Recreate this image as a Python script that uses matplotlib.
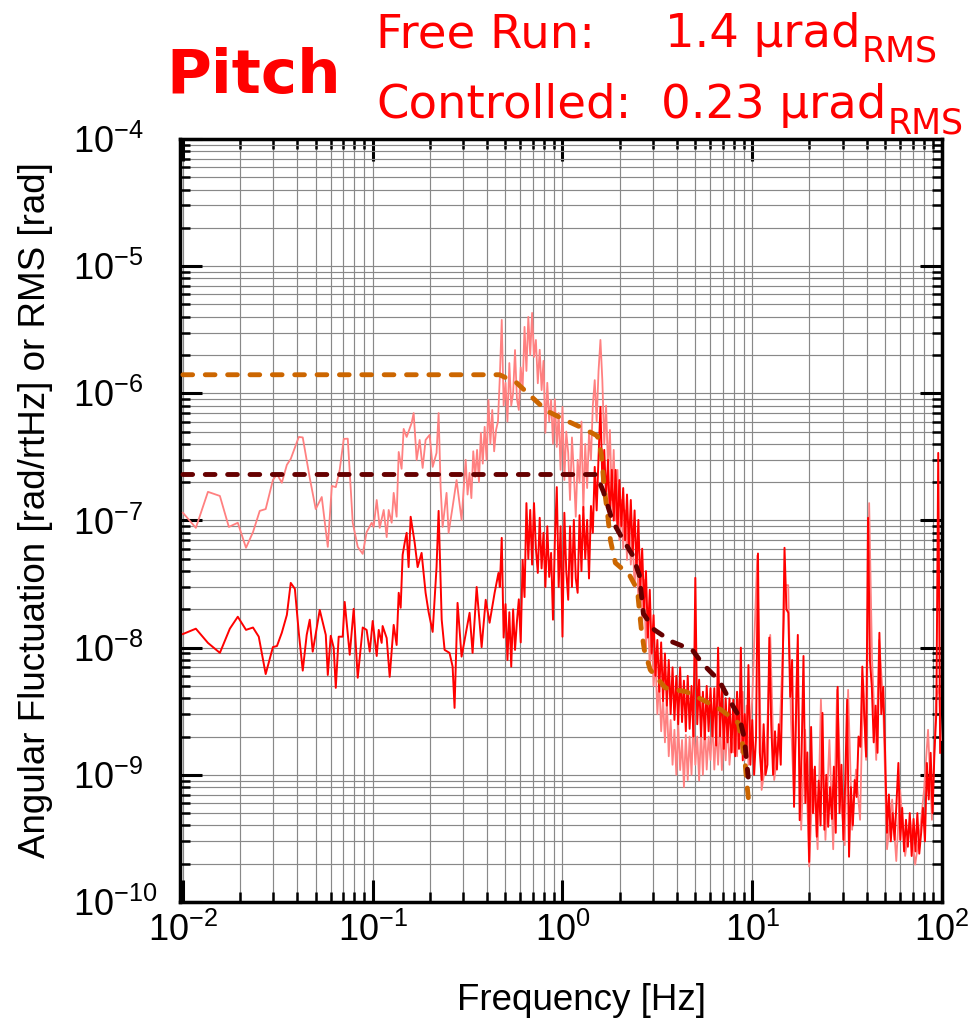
import matplotlib
matplotlib.use("Agg")
import matplotlib.pyplot as plt
from matplotlib.ticker import LogLocator, NullFormatter
import numpy as np

plt.rcParams['font.family'] = ['Liberation Sans', 'DejaVu Sans']
plt.rcParams['mathtext.default'] = 'regular'

# ---- low frequency part of the spectra (read point by point) ----
freq_free_low = [0.0100, 0.0117, 0.01355, 0.01566, 0.01746, 0.01946, 0.0215, 0.0234, 0.0254, 0.0273,
                 0.0298, 0.0313, 0.0332, 0.0353, 0.0370, 0.0408, 0.0428, 0.0466, 0.0501, 0.0539,
                 0.0580, 0.0609, 0.0639, 0.0670, 0.0704, 0.0739, 0.0785, 0.0834, 0.0886, 0.0929,
                 0.0988, 0.1012, 0.1050, 0.1089, 0.1143, 0.1185, 0.1214, 0.1259, 0.129, 0.1337,
                 0.1371, 0.142, 0.1456, 0.151, 0.1604, 0.1644, 0.1705, 0.1768, 0.1833, 0.190,
                 0.1995, 0.207, 0.217, 0.2225, 0.228, 0.2336, 0.245, 0.2512, 0.2637, 0.2767,
                 0.294]
amp_free_low = [1.15e-7, 8.75e-8, 1.68e-7, 1.56e-7, 8.9e-8, 9.6e-8, 6.1e-8, 8.1e-8, 1.19e-7, 1.23e-7,
                2.08e-7, 2.32e-7, 1.98e-7, 2.74e-7, 3.05e-7, 4.54e-7, 4.5e-7, 2.16e-7, 1.23e-7, 1.53e-7,
                6.2e-8, 1.87e-7, 1.83e-7, 2.50e-7, 4.38e-7, 4.4e-7, 9.6e-8, 6.2e-8, 5.46e-8, 8.1e-8,
                9.6e-8, 8.9e-8, 1.45e-7, 8.75e-8, 1.21e-7, 7.4e-8, 1.21e-7, 9.6e-8, 1.65e-7, 1.07e-7,
                3.46e-7, 2.55e-7, 5.25e-7, 4.54e-7, 5.85e-7, 7.0e-7, 2.99e-7, 4.3e-7, 2.59e-7, 4.3e-7,
                4.71e-7, 2.64e-7, 3.4e-7, 7.0e-7, 1.83e-7, 8.9e-8, 1.65e-7, 8.0e-8, 1.28e-7, 2.08e-7,
                1.01e-7]

freq_ctrl_low = [0.0100, 0.0117, 0.01355, 0.01566, 0.01767, 0.01946, 0.0215, 0.0234, 0.0251, 0.0273,
                 0.0298, 0.0313, 0.0332, 0.0353, 0.0370, 0.0389, 0.0408, 0.0428, 0.0449, 0.0466,
                 0.0483, 0.0526, 0.0566, 0.0580, 0.0601, 0.0623, 0.0639, 0.0662, 0.0695, 0.0712,
                 0.0757, 0.0794, 0.0834, 0.0886, 0.0929, 0.0965, 0.1000, 0.105, 0.1076, 0.1115,
                 0.1128, 0.1185, 0.1229, 0.129, 0.1337, 0.1371, 0.1404, 0.1438, 0.1475, 0.151,
                 0.1546, 0.1585, 0.1664, 0.1725, 0.181, 0.190, 0.197, 0.207, 0.217, 0.2225,
                 0.231, 0.2393, 0.254, 0.2637, 0.270, 0.280, 0.294, 0.305, 0.324, 0.336,
                 0.353, 0.375, 0.394, 0.413, 0.439, 0.460]
amp_ctrl_low = [1.28e-8, 1.41e-8, 1.09e-8, 9.1e-9, 1.41e-8, 1.75e-8, 1.38e-8, 1.44e-8, 1.22e-8, 6.2e-9,
                1.01e-8, 1.03e-8, 1.31e-8, 1.81e-8, 3.23e-8, 2.9e-8, 1.31e-8, 6.6e-9, 1.26e-8, 1.66e-8,
                9.3e-9, 1.98e-8, 1.26e-8, 6.1e-9, 1.24e-8, 1.0e-8, 4.83e-9, 1.22e-8, 1.22e-8, 2.29e-8,
                8.8e-9, 2.02e-8, 5.8e-9, 1.44e-8, 1.38e-8, 9.3e-9, 1.62e-8, 8.6e-9, 1.38e-8, 1.09e-8,
                1.48e-8, 1.19e-8, 5.9e-9, 1.51e-8, 1.05e-8, 2.7e-8, 2.06e-8, 5.37e-8, 6.7e-8, 8.0e-8,
                4.3e-8, 1.07e-7, 6.7e-8, 4.3e-8, 5.56e-8, 2.7e-8, 1.91e-8, 1.33e-8, 4.3e-8, 1.19e-7,
                1.66e-8, 9.6e-9, 9.1e-9, 7.1e-9, 3.36e-9, 2.25e-8, 8.5e-9, 1.15e-8, 1.88e-8, 9.1e-9,
                3.0e-8, 1.01e-8, 2.38e-8, 1.57e-8, 2.7e-8, 3.87e-8]

# ---- dense part: frequency bins where the traces form a noisy band ----
freq_dense = [0.3020, 0.3090, 0.3162, 0.3236, 0.3311, 0.3388, 0.3467, 0.3548, 0.3631, 0.3715,
              0.3802, 0.3890, 0.3981, 0.4074, 0.4169, 0.4266, 0.4365, 0.4467, 0.4571,
              0.4677, 0.4786, 0.4898, 0.5012, 0.5129, 0.5248, 0.5370, 0.5495, 0.5623, 0.5754,
              0.5888, 0.6026, 0.6166, 0.6310, 0.6457, 0.6607, 0.6761, 0.6918, 0.7079, 0.7244,
              0.7413, 0.7586, 0.7762, 0.7943, 0.8128, 0.8318, 0.8511, 0.8710, 0.8913, 0.9120,
              0.9333, 0.9550, 0.9772, 1.000, 1.023, 1.047, 1.072, 1.096, 1.122, 1.148,
              1.175, 1.202, 1.230, 1.259, 1.288, 1.318, 1.349, 1.380, 1.413, 1.445,
              1.479, 1.514, 1.549, 1.585, 1.622, 1.660, 1.698, 1.738, 1.778, 1.820,
              1.862, 1.905, 1.950, 1.995, 2.042, 2.089, 2.138, 2.188, 2.239, 2.291,
              2.344, 2.399, 2.455, 2.512, 2.570, 2.630, 2.692, 2.754, 2.818, 2.884,
              2.951, 3.020, 3.090, 3.162, 3.236, 3.311, 3.388, 3.467, 3.548, 3.631,
              3.715, 3.802, 3.890, 3.981, 4.074, 4.169, 4.266, 4.365, 4.467, 4.571,
              4.677, 4.786, 4.898, 5.012, 5.129, 5.248, 5.370, 5.495, 5.623, 5.754,
              5.888, 6.026, 6.166, 6.310, 6.457, 6.607, 6.761, 6.918, 7.079, 7.244,
              7.413, 7.586, 7.762, 7.943, 8.128, 8.318, 8.511, 8.710, 8.913, 9.120,
              9.333, 9.550, 9.772, 10.00, 10.23, 10.47, 10.72, 10.96, 11.22, 11.48,
              11.75, 12.02, 12.30, 12.59, 12.88, 13.18, 13.49, 13.80, 14.13, 14.45,
              14.79, 15.14, 15.49, 15.85, 16.22, 16.60, 16.98, 17.38, 17.78, 18.20,
              18.62, 19.05, 19.50, 19.95, 20.42, 20.89, 21.38, 21.88, 22.39, 22.91,
              23.44, 23.99, 24.55, 25.12, 25.70, 26.30, 26.92, 27.54, 28.18, 28.84,
              29.51, 30.20, 30.90, 31.62, 32.36, 33.11, 33.88, 34.67, 35.48, 36.31,
              37.15, 38.02, 38.90, 39.81, 40.74, 41.69, 42.66, 43.65, 44.67, 45.71,
              46.77, 47.86, 48.98, 50.12, 51.29, 52.48, 53.70, 54.95, 56.23, 57.54,
              58.88, 60.26, 61.66, 63.10, 64.57, 66.07, 67.61, 69.18, 70.79, 72.44,
              74.13, 75.86, 77.62, 79.43, 81.28, 83.18, 85.11, 87.10, 89.13, 91.20,
              93.33, 95.50, 97.72]

# free run, 0.30 Hz .. 9.8 Hz (first 152 bins of freq_dense)
amp_free_dense = [1.83e-7, 3.0e-7, 1.6e-7, 2.37e-7, 1.5e-7, 3.5e-7, 2.2e-7, 3.59e-7, 2.0e-7, 4.89e-7,
                  2.8e-7, 5.45e-7, 3.0e-7, 8.87e-7, 4.0e-7, 7.4e-7, 3.5e-7, 5.15e-7, 6.0e-7,
                  1.35e-6, 3.78e-6, 8.0e-7, 1.21e-6, 6.0e-7, 1.73e-6, 8.0e-7, 1.0e-6, 2.19e-6, 9.0e-7,
                  7.4e-7, 1.6e-6, 1.1e-6, 3.33e-6, 1.5e-6, 3.99e-6, 2.0e-6, 4.29e-6, 1.93e-6, 2.63e-6,
                  1.2e-6, 2.2e-6, 1.06e-6, 1.8e-6, 4.89e-7, 1.21e-6, 6.0e-7, 8.87e-7, 4.0e-7, 9.0e-7,
                  3.79e-7, 7.0e-7, 2.5e-7, 7.82e-7, 2.08e-7, 5.0e-7, 3.4e-7, 1.45e-7, 4.5e-7, 2.37e-7,
                  1.07e-7, 3.0e-7, 1.98e-7, 6.0e-7, 1.2e-7, 4.0e-7, 1.8e-7, 4.89e-7, 3.0e-7, 8.0e-7,
                  1.27e-6, 6.0e-7, 1.5e-6, 2.63e-6, 1.27e-6, 4.0e-7, 8.0e-7, 2.5e-7, 5.15e-7, 1.45e-7,
                  3.59e-7, 1.0e-7, 2.5e-7, 7.0e-8, 1.45e-7, 6.0e-8, 1.2e-7, 4.9e-8, 1.0e-7, 4.5e-8,
                  7.0e-8, 3.0e-8, 6.0e-8, 2.38e-8, 4.5e-8, 1.5e-8, 3.41e-8, 1.0e-8, 2.0e-8, 7.0e-9,
                  1.38e-8, 5.0e-9, 8.0e-9, 3.0e-9, 5.6e-9, 2.2e-9, 4.0e-9, 1.8e-9, 3.9e-9, 1.4e-9,
                  2.7e-9, 1.2e-9, 2.26e-9, 1.0e-9, 2.5e-9, 1.09e-9, 1.88e-9, 8.0e-10, 2.06e-9, 9.1e-10,
                  2.0e-9, 1.0e-9, 2.7e-9, 1.2e-9, 2.0e-9, 9.0e-10, 2.26e-9, 1.0e-9, 2.5e-9, 1.1e-9,
                  2.0e-9, 1.31e-9, 2.7e-9, 1.1e-9, 2.26e-9, 1.2e-9, 2.6e-9, 1.09e-9, 2.2e-9, 1.3e-9,
                  2.7e-9, 1.2e-9, 1.88e-9, 1.5e-9, 3.0e-9, 1.4e-9, 3.9e-9, 1.5e-9, 4.5e-9, 1.31e-9,
                  3.5e-9, 1.2e-9, 2.5e-9]

# controlled, 0.47 Hz .. 97.7 Hz (bins 19 onward of freq_dense)
amp_ctrl_dense = [3.0e-8, 7.3e-8, 1.2e-8, 2.2e-8, 8.0e-9, 1.9e-8, 7.1e-9, 2.0e-8, 9.6e-9, 1.6e-8,
                  2.4e-8, 1.1e-8, 4.9e-8, 2.5e-8, 1.37e-7, 5.0e-8, 1.21e-7, 4.5e-8, 1.37e-7, 6.0e-8,
                  3.87e-8, 1.05e-7, 4.2e-8, 8.0e-8, 3.0e-8, 9.0e-8, 3.6e-8, 5.56e-8, 1.66e-8, 7.0e-8,
                  1.83e-7, 3.0e-8, 9.0e-8, 1.22e-8, 1.15e-7, 4.0e-8, 2.38e-8, 9.0e-8, 3.0e-8, 1.01e-7,
                  3.5e-8, 2.7e-8, 1.1e-7, 4.0e-8, 1.28e-7, 5.0e-8, 1.01e-7, 3.5e-8, 1.3e-7, 8.0e-8,
                  2.64e-7, 1.2e-7, 3.16e-7, 7.82e-7, 2.0e-7, 3.59e-7, 1.5e-7, 2.99e-7, 1.0e-7, 2.5e-7,
                  1.0e-7, 2.5e-7, 8.0e-8, 2.08e-7, 9.0e-8, 1.8e-7, 7.0e-8, 1.6e-7, 6.0e-8, 1.45e-7,
                  5.5e-8, 1.2e-7, 4.0e-8, 1.01e-7, 3.0e-8, 6.0e-8, 2.0e-8, 4.0e-8, 1.2e-8, 2.85e-8,
                  9.0e-9, 1.8e-8, 6.0e-9, 1.15e-8, 4.5e-9, 1.1e-8, 3.8e-9, 9.0e-9, 3.5e-9, 8.0e-9,
                  3.0e-9, 7.0e-9, 2.7e-9, 6.0e-9, 2.5e-9, 7.0e-9, 2.6e-9, 5.5e-9, 2.2e-9, 6.0e-9,
                  2.3e-9, 5.0e-9, 2.0e-9, 3.54e-8, 2.5e-9, 5.6e-9, 2.0e-9, 4.5e-9, 1.9e-9, 5.0e-9,
                  2.2e-9, 4.8e-9, 2.0e-9, 4.8e-9, 1.7e-9, 1.0e-8, 2.0e-9, 5.0e-9, 1.6e-9, 4.0e-9,
                  1.8e-9, 4.0e-9, 1.5e-9, 3.9e-9, 1.4e-9, 4.5e-9, 1.6e-9, 1.0e-8, 1.3e-9, 3.0e-9,
                  1.5e-9, 7.3e-9, 1.2e-9, 2.7e-9, 1.0e-9, 2.0e-9, 5.5e-8, 1.5e-9, 9.1e-10, 2.5e-9,
                  1.0e-9, 1.2e-9, 1.2e-8, 2.5e-9, 1.0e-9, 2.2e-9, 1.1e-9, 2.5e-9, 1.2e-9, 6.3e-9,
                  6.1e-8, 2.0e-8, 1.88e-8, 4.1e-9, 8.0e-9, 5.6e-10, 2.5e-9, 1.26e-8, 4.4e-10, 1.5e-9,
                  8.6e-9, 6.0e-10, 1.5e-9, 2.07e-10, 2.38e-9, 5.0e-10, 1.16e-9, 3.26e-10, 9.0e-10, 4.0e-10,
                  3.07e-9, 3.7e-10, 1.0e-9, 3.9e-10, 8.0e-10, 4.5e-10, 1.16e-9, 3.5e-10, 4.92e-9, 5.0e-10,
                  1.2e-9, 3.08e-10, 9.0e-10, 3.9e-9, 2.27e-10, 8.0e-10, 4.0e-10, 9.1e-10, 6.7e-10, 2.0e-9,
                  1.66e-9, 7.1e-9, 3.0e-9, 1.39e-9, 1.05e-7, 8.0e-9, 4.92e-9, 1.8e-9, 3.5e-9, 1.49e-9,
                  1.31e-8, 3.0e-9, 4.92e-9, 1.5e-9, 3.5e-10, 7.0e-10, 3.0e-10, 5.0e-10, 3.08e-10, 6.0e-10,
                  1.24e-9, 3.08e-10, 5.5e-10, 2.5e-10, 4.43e-10, 2.72e-10, 5.0e-10, 2.3e-10, 4.5e-10, 2.5e-10,
                  5.0e-10, 2.4e-10, 3.5e-10, 5.5e-10, 3.0e-10, 1.24e-9, 6.4e-10, 1.49e-9, 5.0e-10, 1.5e-9,
                  3.07e-9, 3.4e-7, 1.49e-9]

# free run above 10 Hz (mostly hidden below the controlled trace)
freq_free_high = [10.0, 10.63, 11.2, 11.85, 12.44, 13.05, 13.89, 14.56, 14.92, 15.47,
                  16.0, 16.6, 17.26, 18.1, 19.0, 19.95, 20.94, 22.1, 23.0, 24.3,
                  25.5, 26.7, 28.0, 29.4, 30.7, 32.0, 33.6, 35.2, 37.0, 38.4,
                  39.8, 41.3, 42.8, 45.0, 46.6, 48.9, 51.3, 54.6, 57.4, 60.1,
                  63.9, 67.9, 72.2, 76.6, 80.4, 84.4, 88.5, 93.0, 96.4, 98.8]
amp_free_high = [3.9e-9, 5.3e-8, 7.6e-10, 1.31e-9, 1.26e-8, 9.1e-10, 1.88e-9, 1.15e-8, 3.1e-8, 3.1e-8,
                 2.7e-9, 6.4e-10, 9.6e-9, 3.7e-10, 2.26e-9, 1.9e-10, 1.1e-9, 2.6e-10, 3.9e-9, 3.08e-10,
                 1.88e-9, 2.6e-10, 4.66e-9, 6.4e-10, 2.8e-10, 4.66e-9, 3.7e-10, 1.1e-9, 4.43e-10, 5.6e-9,
                 1.31e-9, 1.37e-7, 8.0e-9, 1.31e-9, 1.15e-8, 3.9e-9, 2.6e-10, 6.4e-10, 2.1e-10, 7.6e-10,
                 2.3e-10, 4.43e-10, 1.97e-10, 3.7e-10, 7.6e-10, 2.26e-9, 4.43e-10, 3.9e-9, 5.0e-9, 1.88e-9]

# integrated RMS curves
freq_rms_free = [0.0100, 0.466, 0.573, 0.687, 0.824, 1.024, 1.305, 1.528, 1.604, 1.664,
                 1.725, 1.789, 1.90, 2.253, 2.483, 2.54, 2.606, 2.70, 2.90, 3.48,
                 4.49, 5.46, 6.87, 8.44, 8.86, 9.19, 9.41, 9.64]
rms_free = [1.4e-6, 1.4e-6, 1.21e-6, 9.4e-7, 7.3e-7, 6.2e-7, 5.25e-7, 4.62e-7, 3.28e-7, 1.74e-7,
            1.15e-7, 7.0e-8, 4.64e-8, 3.73e-8, 2.85e-8, 1.98e-8, 1.38e-8, 9.6e-9, 6.7e-9, 4.83e-9,
            4.5e-9, 3.9e-9, 3.24e-9, 2.56e-9, 1.79e-9, 1.2e-9, 8.0e-10, 5.6e-10]
freq_rms_ctrl = [0.0100, 1.51, 1.644, 1.834, 2.07, 2.335, 2.54, 2.67, 3.05, 3.79,
                 4.83, 5.46, 6.70, 7.57, 8.54, 9.08, 9.52]
rms_ctrl = [2.3e-7, 2.3e-7, 1.68e-7, 9.9e-8, 7.2e-8, 5.37e-8, 3.73e-8, 1.85e-8, 1.38e-8, 1.11e-8,
            9.6e-9, 7.5e-9, 5.5e-9, 3.9e-9, 2.86e-9, 1.95e-9, 9.6e-10]

y_ticks = [1e-10, 1e-9, 1e-8, 1e-7, 1e-6, 1e-5, 1e-4]
y_tick_labels = ['$10^{-10}$', '$10^{-9}$', '$10^{-8}$', '$10^{-7}$', '$10^{-6}$', '$10^{-5}$', '$10^{-4}$']
x_ticks = [1e-2, 1e-1, 1e0, 1e1, 1e2]
x_tick_labels = ['$10^{-2}$', '$10^{-1}$', '$10^{0}$', '$10^{1}$', '$10^{2}$']

n_free = len(amp_free_dense)
n_skip = len(freq_dense) - len(amp_ctrl_dense)
freq_free = freq_free_low + freq_dense[:n_free] + freq_free_high
amp_free = amp_free_low + amp_free_dense + amp_free_high
freq_ctrl = freq_ctrl_low + freq_dense[n_skip:]
amp_ctrl = amp_ctrl_low + amp_ctrl_dense

red = '#ff0000'

fig = plt.figure(figsize=(9.76, 10.25), dpi=100)
ax = fig.add_axes([0.1844, 0.12, 0.7808, 0.7444])

ax.plot(freq_free, amp_free, color='#ff8080', lw=1.3, zorder=3)
ax.plot(freq_ctrl, amp_ctrl, color=red, lw=1.4, zorder=4)
ax.plot(freq_rms_free, rms_free, color='#cc6600', lw=3.5, ls=(0, (2.0, 2.6)),
        dash_capstyle='round', zorder=5)
ax.plot(freq_rms_ctrl, rms_ctrl, color='#660000', lw=3.5, ls=(0, (2.0, 2.6)),
        dash_capstyle='round', zorder=6)

ax.set_xscale('log')
ax.set_yscale('log')
ax.set_xlim(0.00965, 100)
ax.set_ylim(1e-10, 1e-4)

ax.set_xticks(x_ticks)
ax.set_xticklabels(x_tick_labels)
ax.set_yticks(y_ticks)
ax.set_yticklabels(y_tick_labels)
ax.xaxis.set_minor_locator(LogLocator(base=10, subs=np.arange(2, 10), numticks=100))
ax.yaxis.set_minor_locator(LogLocator(base=10, subs=np.arange(2, 10), numticks=100))
ax.xaxis.set_minor_formatter(NullFormatter())
ax.yaxis.set_minor_formatter(NullFormatter())

ax.grid(True, which='both', color='#888888', lw=0.85, zorder=0)
ax.set_axisbelow(True)

ax.tick_params(which='both', direction='in', top=True, right=True, labelsize=26)
ax.tick_params(which='major', length=16, width=2.2)
ax.tick_params(which='minor', length=7.5, width=1.8)
ax.tick_params(axis='x', which='major', pad=8)
ax.tick_params(axis='y', which='major', pad=77)
plt.setp(ax.get_yticklabels(), ha='left')
for s in ax.spines.values():
    s.set_linewidth(2.5)

fig.text(0.036, 0.502, 'Angular Fluctuation [rad/rtHz] or RMS [rad]', rotation=90,
         ha='center', va='center', fontsize=26.5)
fig.text(0.596, 0.024, 'Frequency [Hz]', ha='center', va='center', fontsize=26.5)

fig.text(166 / 976, 1 - 93 / 1025, 'Pitch', color=red, fontsize=44,
         fontweight='bold', family='DejaVu Sans', ha='left', va='baseline')
fig.text(376 / 976, 1 - 47 / 1025, 'Free Run:', color=red, fontsize=33.5,
         family='DejaVu Sans', ha='left', va='baseline')
fig.text(376 / 976, 1 - 118 / 1025, 'Controlled:', color=red, fontsize=33.5,
         family='DejaVu Sans', ha='left', va='baseline')
for x0, y0, s in [(665, 47, '1.4 µrad'), (661, 118, '0.23 µrad')]:
    t = fig.text(x0 / 976, 1 - y0 / 1025, s, color=red, fontsize=33.5,
                 family='DejaVu Sans', ha='left', va='baseline')
    ax.annotate('RMS', xy=(1, 0), xycoords=t, xytext=(1, -3.6), textcoords='offset points',
                color=red, fontsize=25, family='DejaVu Sans', ha='left', va='baseline',
                annotation_clip=False)

fig.savefig('out.png', dpi=100)
